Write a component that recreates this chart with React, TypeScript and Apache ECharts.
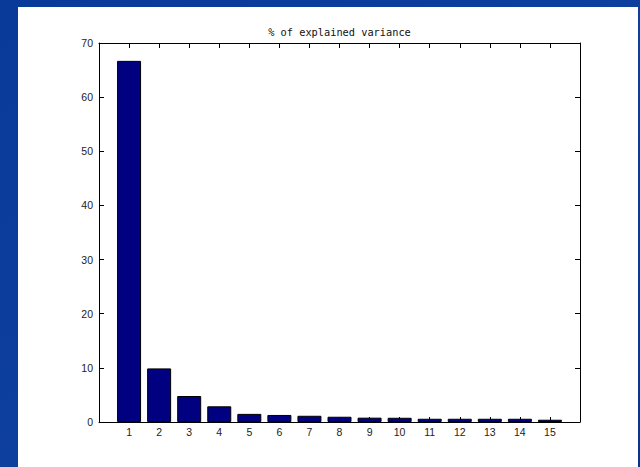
import React, { useEffect, useRef } from "react";
import * as echarts from "echarts";

const components = [1, 2, 3, 4, 5, 6, 7, 8, 9, 10, 11, 12, 13, 14, 15];
const explainedVariance = [66.7, 9.9, 4.8, 2.9, 1.5, 1.3, 1.15, 0.97, 0.8, 0.78, 0.6, 0.6, 0.6, 0.6, 0.42];
const yTicks = [0, 10, 20, 30, 40, 50, 60, 70];
const titleText = "% of explained variance";

export default function App() {
  const ref = useRef<HTMLDivElement>(null);
  useEffect(() => {
    if (!ref.current) return;
    const chart = echarts.init(ref.current, null, { renderer: "svg" });
    const labelStyle = { color: "#222", fontSize: 10.5, fontFamily: "Liberation Sans, Arial, sans-serif" };
    const tick = () => ({ show: true, inside: true, length: 5, lineStyle: { color: "#000", width: 1 } });
    const line = () => ({ show: true, onZero: false, lineStyle: { color: "#000", width: 1 } });
    chart.setOption({
      animation: false,
      backgroundColor: {
        type: "linear", x: 0, y: 0, x2: 1, y2: 1,
        colorStops: [
          { offset: 0, color: "#0a3a99" },
          { offset: 0.5, color: "#0d3f9e" },
          { offset: 1, color: "#07348f" },
        ],
      },
      graphic: [
        { type: "rect", z: -10, shape: { x: 18, y: 7, width: 620, height: 460 }, style: { fill: "#ffffff" }, silent: true },
      ],
      title: {
        text: titleText,
        left: 339.5,
        textAlign: "center",
        top: 27,
        padding: 0,
        textStyle: { fontFamily: "DejaVu Sans Mono, monospace", fontSize: 10.3, fontWeight: "normal", color: "#111" },
      },
      grid: { left: 99, top: 43, right: 60, bottom: 45, show: false },
      xAxis: [
        {
          type: "value", min: 0, max: 16, interval: 1, position: "bottom",
          axisLine: line(),
          axisTick: tick(),
          axisLabel: {
            ...labelStyle, margin: 4,
            formatter: (v: number) => (components.includes(v) ? String(v) : ""),
          },
          splitLine: { show: false },
        },
        {
          type: "value", min: 0, max: 16, interval: 1, position: "top",
          axisLine: line(),
          axisTick: tick(),
          axisLabel: { show: false },
          splitLine: { show: false },
        },
      ],
      yAxis: [
        {
          type: "value", min: yTicks[0], max: yTicks[yTicks.length - 1], interval: 10, position: "left",
          axisLine: line(),
          axisTick: tick(),
          axisLabel: { ...labelStyle, margin: 6 },
          splitLine: { show: false },
        },
        {
          type: "value", min: yTicks[0], max: yTicks[yTicks.length - 1], interval: 10, position: "right",
          axisLine: line(),
          axisTick: tick(),
          axisLabel: { show: false },
          splitLine: { show: false },
        },
      ],
      series: [
        {
          type: "bar",
          xAxisIndex: 0,
          yAxisIndex: 0,
          barWidth: 24,
          data: components.map((c, i) => [c, explainedVariance[i]]),
          itemStyle: { color: "#000080", borderColor: "#000", borderWidth: 1 },
          z: 1,
        },
      ],
    });
    return () => chart.dispose();
  }, []);
  return <div ref={ref} style={{ position: "fixed", left: 0, top: 0, width: 640, height: 467 }} />;
}
